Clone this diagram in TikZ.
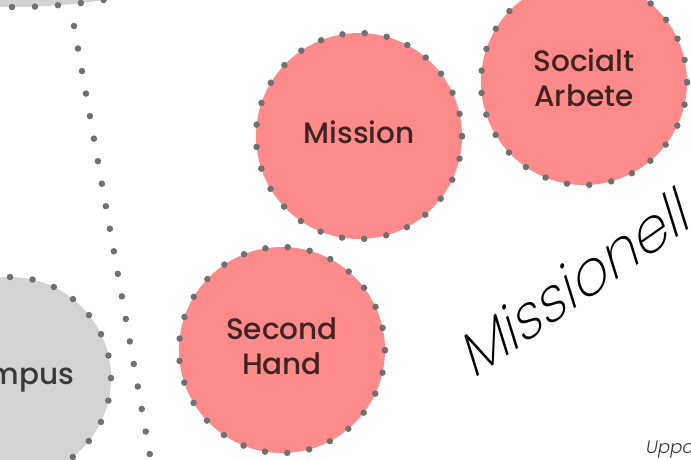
\documentclass[tikz,border=0pt]{standalone}
\usepackage{fontspec}
\setmainfont{Poppins}[UprightFont=* Medium]
\newfontfamily\thinfont{Poppins}[UprightFont=* ExtraLight, ItalicFont=* Light Italic]
\usepackage{xcolor}
\usepackage{tikz}
\usetikzlibrary{positioning}
\definecolor{bubblepink}{RGB}{255,138,138}
\definecolor{campusgray}{RGB}{211,211,211}
\definecolor{dotgray}{RGB}{112,112,112}
\definecolor{labeldark}{RGB}{64,36,36}
\definecolor{graydark}{RGB}{58,58,58}
\tikzset{
  % dotted outline
  dotring/.style={
    draw=dotgray,
    line width=6.5pt,
    line cap=round,
    dash pattern=on 0pt off 22.3pt
  },
  % pink bubble
  bubble/.style={
    circle,
    dotring,
    fill=bubblepink,
    minimum size=206pt,
    inner sep=0pt,
    outer sep=0pt,
    align=center,
    text depth=8pt,
    text=labeldark,
    font=\fontsize{29.5}{35}\selectfont
  },
  % gray bubble
  campus/.style={
    bubble,
    fill=campusgray,
    minimum size=202pt,
    text=graydark,
    dash pattern=on 0pt off 22.66pt
  },
}

\begin{document}
\begin{tikzpicture}[x=1pt,y=1pt]
  \useasboundingbox (0,0) rectangle (691,459);

  % Top blob
  \node[campus, draw=none, minimum size=1200pt] (topblob) at (12,1052) {};
  \draw[dotring, dash pattern=on 0pt off 22.99pt] (topblob.south) arc[start angle=-90, end angle=-80, radius=600pt];

  % Dotted link
  \coordinate (linetop) at (74,433);
  \coordinate (linebottom) at (152,-8);
  \draw[dotring, dash pattern=on 0pt off 22.88pt] (linetop) -- (linebottom);

  % Bubbles
  \node[bubble] (mission) at (359,323) {Mission};
  \node[bubble] (socialt) at (584,377) {Socialt\\Arbete};
  \node[bubble] (secondhand) at (282,109) {Second\\Hand};
  \node[campus] (campusnode) at (10,81) {Campus};

  % Labels
  \node[font=\thinfont\fontsize{59}{59}\selectfont, inner sep=0pt, rotate=35, xslant=0.32, anchor=base west] (title) at (473,79) {Missionell};
  \node[font=\thinfont\itshape\fontsize{18}{18}\selectfont, text=graydark, inner sep=0pt, anchor=base west] (footer) at (646,6) {Uppo};
\end{tikzpicture}
\end{document}
